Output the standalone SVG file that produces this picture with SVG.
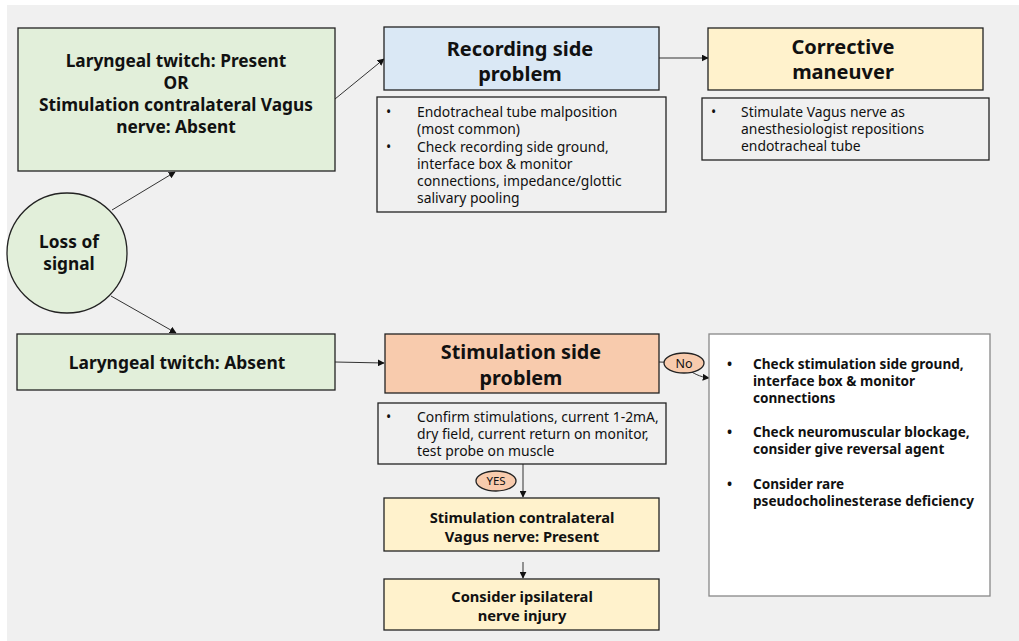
<svg xmlns="http://www.w3.org/2000/svg" width="1019" height="641" viewBox="0 0 1019 641">
<style>
.t{font-family:"Noto Sans","Liberation Sans",sans-serif;fill:#111;}
.b{font-weight:bold;}
.box{stroke:#222;stroke-width:1.3;}
.note{fill:#f0f0f0;stroke:#222;stroke-width:1.3;}
.c{fill:none;stroke:#333;stroke-width:1;}
</style>
<defs>
<marker id="ah" viewBox="0 0 10 10" refX="9" refY="5" markerWidth="7" markerHeight="7" orient="auto" markerUnits="userSpaceOnUse"><path d="M0,0 L10,5 L0,10 z" fill="#111"/></marker>
</defs>
<rect x="0" y="0" width="1019" height="641" fill="#ffffff"/>
<rect x="7" y="5" width="1012" height="636" fill="#f0f0f0"/>
<g id="connectors">
<line class="c" x1="112" y1="210" x2="175" y2="172" marker-end="url(#ah)"/>
<line class="c" x1="111" y1="296" x2="176" y2="333" marker-end="url(#ah)"/>
<line class="c" x1="335" y1="99" x2="384" y2="59" marker-end="url(#ah)"/>
<line class="c" x1="335" y1="362" x2="384" y2="363" marker-end="url(#ah)"/>
<line class="c" x1="659" y1="58" x2="708" y2="58" marker-end="url(#ah)"/>
<path class="c" d="M659,362 C685,362 690,376 709,378" marker-end="url(#ah)"/>
<line class="c" x1="523" y1="464" x2="523" y2="497" marker-end="url(#ah)"/>
<line class="c" x1="523" y1="562" x2="523" y2="578" marker-end="url(#ah)"/>
</g>
<g id="n-present">
<rect class="box" x="18" y="28" width="317" height="143" fill="#e2efda"/>
<text class="t b" font-size="17.3" text-anchor="middle" x="176" y="67">Laryngeal twitch: Present</text>
<text class="t b" font-size="17.3" text-anchor="middle" x="176" y="89">OR</text>
<text class="t b" font-size="17.3" text-anchor="middle" x="176" y="111">Stimulation contralateral Vagus</text>
<text class="t b" font-size="17.3" text-anchor="middle" x="176" y="133">nerve: Absent</text>
</g>
<g id="n-loss">
<circle class="box" cx="67" cy="253" r="60" fill="#e2efda"/>
<text class="t b" font-size="17.3" text-anchor="middle" x="69" y="248">Loss of</text>
<text class="t b" font-size="17.3" text-anchor="middle" x="69" y="270">signal</text>
</g>
<g id="n-absent">
<rect class="box" x="17" y="334" width="318" height="56" fill="#e2efda"/>
<text class="t b" font-size="17.4" text-anchor="middle" x="177" y="369">Laryngeal twitch: Absent</text>
</g>
<g id="n-recording">
<rect class="box" x="384" y="27" width="275" height="63" fill="#dae8f5"/>
<text class="t b" font-size="20" text-anchor="middle" x="520" y="56">Recording side</text>
<text class="t b" font-size="20" text-anchor="middle" x="520" y="81">problem</text>
</g>
<g id="n-recording-notes">
<rect class="note" x="377" y="97" width="289" height="115"/>
<g class="t" font-size="13.9">
<text x="386" y="117">•</text>
<text x="417" y="117">Endotracheal tube malposition</text>
<text x="417" y="134">(most common)</text>
<text x="386" y="152">•</text>
<text x="417" y="152">Check recording side ground,</text>
<text x="417" y="169">interface box &amp; monitor</text>
<text x="417" y="186">connections, impedance/glottic</text>
<text x="417" y="203">salivary pooling</text>
</g>
</g>
<g id="n-corrective">
<rect class="box" x="708" y="28" width="275" height="62" fill="#fff2cc"/>
<text class="t b" font-size="20" text-anchor="middle" x="843" y="54">Corrective</text>
<text class="t b" font-size="20" text-anchor="middle" x="843" y="79">maneuver</text>
</g>
<g id="n-corrective-notes">
<rect class="note" x="702" y="98" width="287" height="62"/>
<g class="t" font-size="13.9">
<text x="711" y="117">•</text>
<text x="741" y="117">Stimulate Vagus nerve as</text>
<text x="741" y="134">anesthesiologist repositions</text>
<text x="741" y="151">endotracheal tube</text>
</g>
</g>
<g id="n-stimulation">
<rect class="box" x="385" y="334" width="274" height="59" fill="#f8cbad"/>
<text class="t b" font-size="19.8" text-anchor="middle" x="521" y="359">Stimulation side</text>
<text class="t b" font-size="19.8" text-anchor="middle" x="521" y="385">problem</text>
</g>
<g id="n-stimulation-notes">
<rect class="note" x="378" y="403" width="288" height="61"/>
<g class="t" font-size="13.9">
<text x="386" y="422">•</text>
<text x="417" y="422">Confirm stimulations, current 1-2mA,</text>
<text x="417" y="439">dry field, current return on monitor,</text>
<text x="417" y="456">test probe on muscle</text>
</g>
</g>
<g id="n-no">
<ellipse class="box" cx="684" cy="363" rx="20" ry="10" fill="#f8cbad" stroke-width="1"/>
<text class="t" font-size="12.5" text-anchor="middle" x="684" y="367.5">No</text>
</g>
<g id="n-checks">
<rect x="709" y="334" width="281" height="262" fill="#ffffff" stroke="#888" stroke-width="1.3"/>
<g class="t b" font-size="13.6">
<text x="727" y="369">•</text>
<text x="753" y="369">Check stimulation side ground,</text>
<text x="753" y="386">interface box &amp; monitor</text>
<text x="753" y="403">connections</text>
<text x="727" y="437">•</text>
<text x="753" y="437">Check neuromuscular blockage,</text>
<text x="753" y="454">consider give reversal agent</text>
<text x="727" y="489">•</text>
<text x="753" y="489">Consider rare</text>
<text x="753" y="506">pseudocholinesterase deficiency</text>
</g>
</g>
<g id="n-yes">
<ellipse class="box" cx="496" cy="481" rx="20" ry="10" fill="#f8cbad" stroke-width="1"/>
<text class="t" font-size="11.5" text-anchor="middle" x="496" y="485">YES</text>
</g>
<g id="n-contra-present">
<rect class="box" x="384" y="498" width="275" height="53" fill="#fff2cc"/>
<text class="t b" font-size="14.7" text-anchor="middle" x="522" y="523">Stimulation contralateral</text>
<text class="t b" font-size="14.7" text-anchor="middle" x="522" y="542">Vagus nerve: Present</text>
</g>
<g id="n-ipsilateral">
<rect class="box" x="384" y="579" width="275" height="51" fill="#fff2cc"/>
<text class="t b" font-size="14.7" text-anchor="middle" x="522" y="602">Consider ipsilateral</text>
<text class="t b" font-size="14.7" text-anchor="middle" x="522" y="621">nerve injury</text>
</g>
</svg>
